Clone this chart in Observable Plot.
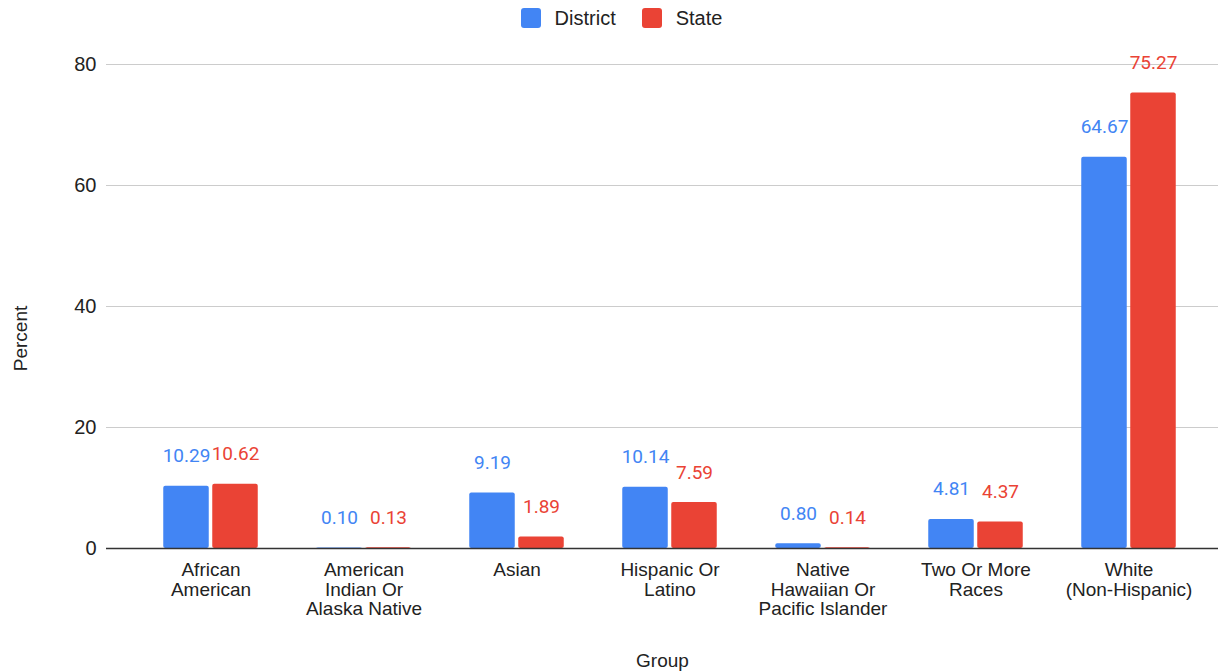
<!DOCTYPE html>
<html>
<head>
<meta charset="utf-8">
<script src="https://cdn.jsdelivr.net/npm/d3@7"></script>
<script src="https://cdn.jsdelivr.net/npm/@observablehq/plot@0.6"></script>
<style>
  html, body { margin: 0; padding: 0; background: #fff; }
  #legend { height: 36px; display: flex; justify-content: center; align-items: center; font-family: Arial, "Liberation Sans", sans-serif; font-size: 20px; color: #222; padding-left: 24px; box-sizing: border-box; }
  .item { display: flex; align-items: center; margin: 0 13px; }
  .sw { width: 20px; height: 20px; border-radius: 3px; margin-right: 14px; }
  svg { display: block; }
</style>
</head>
<body>
<div id="legend"></div>
<div id="chart"></div>
<script>
const groups = ["African American", "American Indian Or Alaska Native", "Asian", "Hispanic Or Latino", "Native Hawaiian Or Pacific Islander", "Two Or More Races", "White (Non-Hispanic)"];
const tickLabels = ["African\nAmerican", "American\nIndian Or\nAlaska Native", "Asian", "Hispanic Or\nLatino", "Native\nHawaiian Or\nPacific Islander", "Two Or More\nRaces", "White\n(Non-Hispanic)"];
const district = [10.29, 0.10, 9.19, 10.14, 0.80, 4.81, 64.67];
const state = [10.62, 0.13, 1.89, 7.59, 0.14, 4.37, 75.27];
const seriesNames = ["District", "State"];
const seriesColors = ["#4285F4", "#EA4335"];
const yTicks = [0, 20, 40, 60, 80];

const dData = groups.map((g, i) => ({group: g, value: district[i]}));
const sData = groups.map((g, i) => ({group: g, value: state[i]}));

const legend = document.getElementById("legend");
seriesNames.forEach((n, i) => {
  const it = document.createElement("div");
  it.className = "item";
  it.innerHTML = `<span class="sw" style="background:${seriesColors[i]}"></span><span>${n}</span>`;
  legend.appendChild(it);
});

const lab = new Map(groups.map((g, i) => [g, tickLabels[i]]));

const chart = Plot.plot({
  width: 1219,
  height: 636,
  marginLeft: 106,
  marginRight: 1,
  marginTop: 28,
  marginBottom: 124,
  style: {fontFamily: "Arial, 'Liberation Sans', sans-serif", fontSize: "20px", color: "#222"},
  x: {domain: groups, paddingInner: 0, paddingOuter: 0.122, align: 0.69},
  y: {domain: [0, 80]},
  marks: [
    Plot.gridY(yTicks, {stroke: "#ccc", strokeOpacity: 1}),
    Plot.axisY(yTicks, {tickSize: 0, tickPadding: 10, label: null, fontSize: 20}),
    Plot.axisX({tickSize: 0, tickPadding: 14, tickFormat: d => lab.get(d), lineHeight: 1.02, fontSize: 19, label: null}),
    Plot.text(["Group"], {frameAnchor: "bottom", lineAnchor: "middle", dy: 112, fontSize: 19}),
    Plot.text(["Percent"], {frameAnchor: "left", textAnchor: "middle", rotate: -90, dx: -86, dy: 32, fontSize: 19}),
    Plot.barY(dData, {x: "group", y: "value", fill: seriesColors[0], insetLeft: 29.25, insetRight: 78.25, rx: 2}),
    Plot.barY(sData, {x: "group", y: "value", fill: seriesColors[1], insetLeft: 78.25, insetRight: 29.25, rx: 2}),
    Plot.ruleY([0], {stroke: "#333", strokeWidth: 1.5}),
    Plot.text(dData, {x: "group", y: "value", text: d => d.value.toFixed(2), dx: -24.5, dy: -30, fill: seriesColors[0], fontSize: 19, fontFamily: "Roboto, sans-serif"}),
    Plot.text(sData, {x: "group", y: "value", text: d => d.value.toFixed(2), dx: 24.5, dy: -30, fill: seriesColors[1], fontSize: 19, fontFamily: "Roboto, sans-serif"})
  ]
});
document.getElementById("chart").appendChild(chart);
</script>
</body>
</html>
